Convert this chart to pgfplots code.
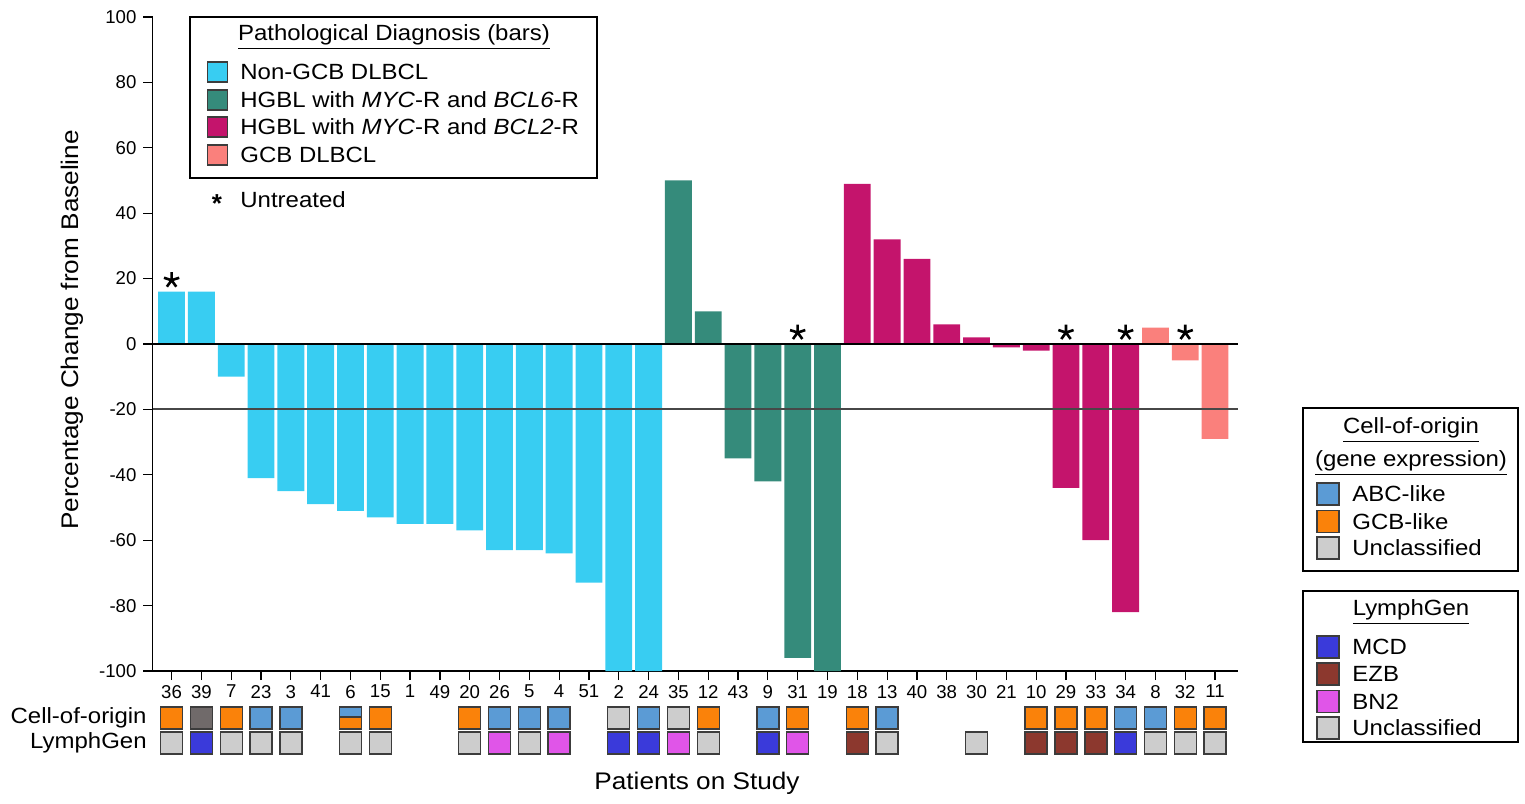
\documentclass[border=0pt]{standalone}
\usepackage{fontspec}
\setmainfont{Liberation Sans}
\newfontfamily\wide{Liberation Sans}[FakeStretch=1.09]
\usepackage{pgfplots}
\pgfplotsset{compat=1.18}
\definecolor{cNon}{RGB}{56,205,242}
\definecolor{cTeal}{RGB}{53,139,123}
\definecolor{cMag}{RGB}{196,20,108}
\definecolor{cSal}{RGB}{250,128,124}
\definecolor{cABC}{RGB}{91,155,213}
\definecolor{cGCB}{RGB}{250,130,10}
\definecolor{cUnc}{RGB}{205,205,205}
\definecolor{cDark}{RGB}{112,106,106}
\definecolor{cMCD}{RGB}{58,58,218}
\definecolor{cEZB}{RGB}{140,56,46}
\definecolor{cBN2}{RGB}{224,85,232}
\definecolor{cEdge}{RGB}{60,60,60}
\pgfdeclareplotmark{cellbox}{\pgfpathrectangle{\pgfpoint{-5.5pt}{-5.5pt}}{\pgfpoint{11pt}{11pt}}\pgfusepathqfillstroke}
\pgfdeclareplotmark{cellboxtop}{\pgfpathrectangle{\pgfpoint{-5.5pt}{0.5pt}}{\pgfpoint{11pt}{5pt}}\pgfusepathqfillstroke}
\newcommand{\lgfont}{\wide\fontsize{11}{13}\selectfont}
\newcommand{\labfont}{\wide\fontsize{12}{14}\selectfont}
\begin{document}
\begin{tikzpicture}
\path (-77.5pt,-66pt) rectangle (685pt,335.5pt);
\begin{axis}[at={(-1.25pt,0pt)}, anchor=south west, scale only axis,
  width=542.75pt, height=327pt,
  xmin=-0.64, xmax=35.77, ymin=-100, ymax=100,
  axis x line*=bottom, axis y line*=left,
  xtick={0,...,35},
  xticklabels={36,39,7,23,3,41,6,15,1,49,20,26,5,4,51,2,24,35,12,43,9,31,19,18,13,40,38,30,21,10,29,33,34,8,32,11},
  ytick={-100,-80,-60,-40,-20,0,20,40,60,80,100},
  yticklabels={-100,-80,-60,-40,-20,0,20,40,60,80,100},
  tick align=outside, major tick length=4.5pt,
  tick style={black, line width=0.6pt},
  axis line style={black, line width=0.8pt},
  ticklabel style={font=\fontsize{9.3}{11}\selectfont},
  xticklabel style={yshift=1pt},
  clip=false]
\addplot[ybar, bar width=0.9, bar shift=0pt, fill=cNon, draw=none] coordinates {(0,16)(1,16)(2,-10)(3,-41)(4,-45)(5,-49)(6,-51)(7,-53)(8,-55)(9,-55)(10,-57)(11,-63)(12,-63)(13,-64)(14,-73)(15,-100)(16,-100)};
\addplot[ybar, bar width=0.9, bar shift=0pt, fill=cTeal, draw=none] coordinates {(17,50)(18,10)(19,-35)(20,-42)(21,-96)(22,-100)};
\addplot[ybar, bar width=0.9, bar shift=0pt, fill=cMag, draw=none] coordinates {(23,49)(24,32)(25,26)(26,6)(27,2)(28,-1)(29,-2)(30,-44)(31,-60)(32,-82)};
\addplot[ybar, bar width=0.9, bar shift=0pt, fill=cSal, draw=none] coordinates {(33,5)(34,-5)(35,-29)};
\addplot[black, line width=0.8pt, mark=none] coordinates {(-0.64,0)(35.77,0)};
\addplot[black!72, line width=1pt, mark=none] coordinates {(-0.64,-20)(35.77,-20)};
\addplot[only marks, mark=star, mark size=4pt, mark options={line width=1.3pt, black}] coordinates {(0,19.5)(21,3.5)(30,3.5)(32,3.5)(34,3.5)};
% Cell-of-origin row
\addplot[only marks, mark=cellbox, mark options={draw=cEdge, fill=cGCB, line width=0.7pt}] coordinates {(0,-114.4)(2,-114.4)(6,-114.4)(7,-114.4)(10,-114.4)(18,-114.4)(21,-114.4)(23,-114.4)(29,-114.4)(30,-114.4)(31,-114.4)(34,-114.4)(35,-114.4)};
\addplot[only marks, mark=cellboxtop, mark options={draw=cEdge, fill=cABC, line width=0.7pt}] coordinates {(6,-114.4)};
\addplot[only marks, mark=cellbox, mark options={draw=cEdge, fill=cABC, line width=0.7pt}] coordinates {(3,-114.4)(4,-114.4)(11,-114.4)(12,-114.4)(13,-114.4)(16,-114.4)(20,-114.4)(24,-114.4)(32,-114.4)(33,-114.4)};
\addplot[only marks, mark=cellbox, mark options={draw=cEdge, fill=cUnc, line width=0.7pt}] coordinates {(15,-114.4)(17,-114.4)};
\addplot[only marks, mark=cellbox, mark options={draw=cEdge, fill=cDark, line width=0.7pt}] coordinates {(1,-114.4)};
% LymphGen row
\addplot[only marks, mark=cellbox, mark options={draw=cEdge, fill=cUnc, line width=0.7pt}] coordinates {(0,-122)(2,-122)(3,-122)(4,-122)(6,-122)(7,-122)(10,-122)(12,-122)(18,-122)(24,-122)(27,-122)(33,-122)(34,-122)(35,-122)};
\addplot[only marks, mark=cellbox, mark options={draw=cEdge, fill=cMCD, line width=0.7pt}] coordinates {(1,-122)(15,-122)(16,-122)(20,-122)(32,-122)};
\addplot[only marks, mark=cellbox, mark options={draw=cEdge, fill=cBN2, line width=0.7pt}] coordinates {(11,-122)(13,-122)(17,-122)(21,-122)};
\addplot[only marks, mark=cellbox, mark options={draw=cEdge, fill=cEZB, line width=0.7pt}] coordinates {(23,-122)(29,-122)(30,-122)(31,-122)};
\end{axis}
% axis labels
\node[rotate=90, font=\labfont] at (-41.5pt,170.5pt) {Percentage Change from Baseline};
\node[font=\labfont] at (271pt,-56pt) {Patients on Study};
\node[anchor=east, font=\lgfont, inner sep=0pt] at (-4pt,-23.5pt) {Cell-of-origin};
\node[anchor=east, font=\lgfont, inner sep=0pt] at (-4pt,-36pt) {LymphGen};
% legend 1
\draw[black, line width=0.7pt, fill=white] (17.5pt,246.5pt) rectangle (221pt,327pt);
\node[font=\lgfont] at (119.5pt,317pt) {\underline{Pathological Diagnosis (bars)}};
\foreach \y/\c/\t in {299.5/cNon/{Non-GCB DLBCL}, 285.5/cTeal/{HGBL with \textit{MYC}-R and \textit{BCL6}-R}, 272/cMag/{HGBL with \textit{MYC}-R and \textit{BCL2}-R}, 258/cSal/{GCB DLBCL}}{
  \draw[cEdge, line width=0.6pt, fill=\c] (26.25pt,\y pt-5pt) rectangle (36.25pt,\y pt+5pt);
  \node[anchor=west, font=\lgfont, inner sep=0pt] at (42.5pt,\y pt) {\t};
}
\node[font=\fontsize{13}{14}\selectfont\bfseries, inner sep=0pt] at (31pt,233.5pt) {*};
\node[anchor=west, font=\lgfont, inner sep=0pt] at (42.5pt,235.5pt) {Untreated};
% legend 2
\draw[black, line width=0.7pt] (574pt,50pt) rectangle (681.5pt,131.5pt);
\node[font=\lgfont] at (628pt,120.5pt) {\underline{Cell-of-origin}};
\node[font=\lgfont] at (628pt,104pt) {\underline{(gene expression)}};
\foreach \y/\c/\t in {88.5/cABC/ABC-like, 74.6/cGCB/GCB-like, 61.5/cUnc/Unclassified}{
  \draw[cEdge, line width=0.6pt, fill=\c] (581pt,\y pt-5.5pt) rectangle (592pt,\y pt+5.5pt);
  \node[anchor=west, font=\lgfont, inner sep=0pt] at (598.5pt,\y pt) {\t};
}
% legend 3
\draw[black, line width=0.7pt] (574pt,-35.5pt) rectangle (681.5pt,40pt);
\node[font=\lgfont] at (628pt,29.5pt) {\underline{LymphGen}};
\foreach \y/\c/\t in {12/cMCD/MCD, -1.5/cEZB/EZB, -15.3/cBN2/BN2, -28.5/cUnc/Unclassified}{
  \draw[cEdge, line width=0.6pt, fill=\c] (581pt,\y pt-5.5pt) rectangle (592pt,\y pt+5.5pt);
  \node[anchor=west, font=\lgfont, inner sep=0pt] at (598.5pt,\y pt) {\t};
}
\end{tikzpicture}
\end{document}
